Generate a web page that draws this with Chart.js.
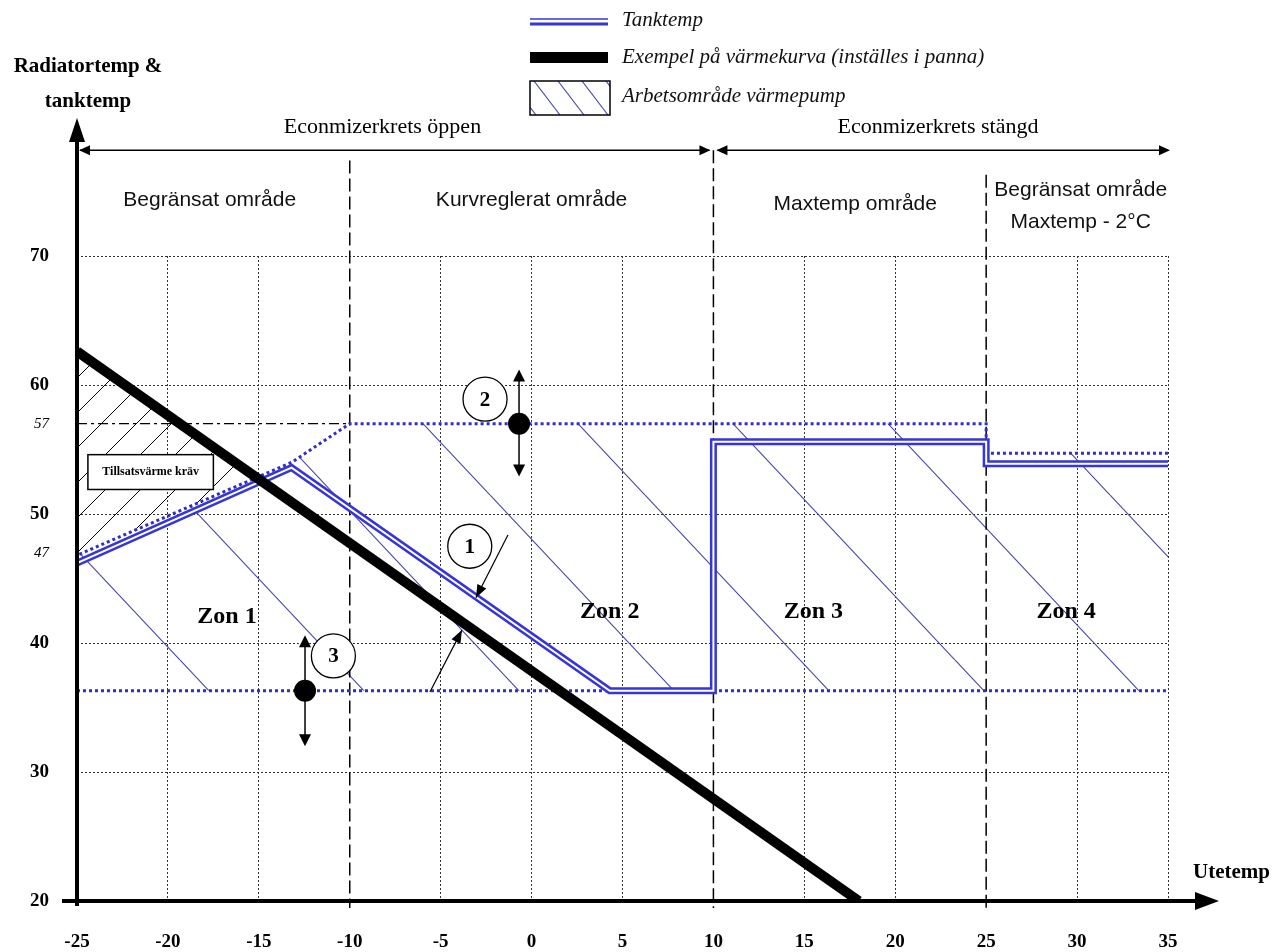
<!DOCTYPE html>
<html>
<head>
<meta charset="utf-8">
<script src="https://cdn.jsdelivr.net/npm/chart.js@4/dist/chart.umd.min.js"></script>
<style>
  html,body{margin:0;background:#fff}
  #wrap{width:1279px;height:952px}
</style>
</head>
<body>
<div id="wrap"><canvas id="c" width="1279" height="952"></canvas></div>
<script>
// ---------- data (utetemp on x, radiator/tank temp on y) ----------
const xTicks = [-25,-20,-15,-10,-5,0,5,10,15,20,25,30,35];
const yTicks = [20,30,40,47,50,57,60,70];
const smallTicks = [47,57];
const zoneBorders = [-10,10,25];
const zoneTops = [77.4,78.2,76.3];

// värmekurva (thick black)
const curveX = [-25,18];
const curveY = [62.6,20];

// tanktemp (double blue)
const tankX = [-25,-13.2,4.3,10,10,25,25,35];
const tankY = [46.2,53.6,36.3,36.3,55.6,55.6,53.9,53.9];

// working area of the heat pump, dotted borders
const upperX = [-25,-25,-13.2,-10,25,25,35];
const upperY = [36.3,46.8,54,57,57,54.7,54.7];
const lowerX = [-25,35];
const lowerY = [36.3,36.3];

// 57 reference (dash-dot)
const refX = [-25,-10];
const refY = [57,57];

// tillsatsvärme area (black hatch)
const extraX = [-25,-15.1,-25];
const extraY = [46.8,52.8,62.6];

// helpers
const pts = (xs, ys) => xs.map((v,i) => ({x:v, y:ys[i]}));
const SERIF = '"Liberation Serif", "Times New Roman", serif';
const SANS = '"Liberation Sans", Arial, sans-serif';

function makeHatch(w, h, color, lw, dir){
  const c = document.createElement('canvas');
  c.width = w; c.height = h;
  const g = c.getContext('2d');
  g.strokeStyle = color; g.lineWidth = lw;
  g.beginPath();
  for (const dx of [-w,0,w]){
    if (dir > 0){ g.moveTo(dx,0); g.lineTo(dx+w,h); }
    else { g.moveTo(dx,h); g.lineTo(dx+w,0); }
  }
  g.stroke();
  return c;
}

function arrowHead(ctx, x1, y1, x2, y2, len, half){
  const a = Math.atan2(y2-y1, x2-x1);
  ctx.beginPath();
  ctx.moveTo(x2, y2);
  ctx.lineTo(x2 - len*Math.cos(a) + half*Math.sin(a), y2 - len*Math.sin(a) - half*Math.cos(a));
  ctx.lineTo(x2 - len*Math.cos(a) - half*Math.sin(a), y2 - len*Math.sin(a) + half*Math.cos(a));
  ctx.closePath();
  ctx.fill();
}

function text(ctx, s, x, y, font, align){
  ctx.font = font;
  ctx.textAlign = align || 'center';
  ctx.textBaseline = 'middle';
  ctx.fillText(s, x, y);
}

// hatch areas + dashed zone borders under the lines
const underPlugin = {
  id: 'under',
  beforeDatasetsDraw(chart){
    const {ctx, scales:{x, y}} = chart;
    const poly = (xs, ys) => {
      ctx.beginPath();
      xs.forEach((v,i) => {
        const px = x.getPixelForValue(v), py = y.getPixelForValue(ys[i]);
        i ? ctx.lineTo(px,py) : ctx.moveTo(px,py);
      });
      ctx.closePath();
    };
    ctx.save();
    const blue = ctx.createPattern(makeHatch(155,165,'#4444a8',1.1,1), 'repeat');
    blue.setTransform(new DOMMatrix([1,0,0,1,25,0]));
    poly(upperX.concat(lowerX.slice().reverse()), upperY.concat(lowerY.slice().reverse()));
    ctx.fillStyle = blue; ctx.fill();

    const black = ctx.createPattern(makeHatch(35,35,'#000',1,-1), 'repeat');
    poly(extraX, extraY);
    ctx.fillStyle = black; ctx.fill();

    // zone borders
    ctx.strokeStyle = '#000'; ctx.lineWidth = 1.5; ctx.setLineDash([13,5]);
    zoneBorders.forEach((v,i) => {
      const px = x.getPixelForValue(v);
      ctx.beginPath();
      ctx.moveTo(px, y.getPixelForValue(zoneTops[i]));
      ctx.lineTo(px, y.getPixelForValue(20) + 7);
      ctx.stroke();
    });
    ctx.restore();
  }
};

// axes, legend and annotations on top
const overPlugin = {
  id: 'over',
  afterDraw(chart){
    const {ctx, scales:{x, y}} = chart;
    const X = v => x.getPixelForValue(v), Y = v => y.getPixelForValue(v);
    ctx.save();
    ctx.fillStyle = '#000'; ctx.strokeStyle = '#000';

    // axes with arrows
    ctx.lineWidth = 4;
    ctx.beginPath(); ctx.moveTo(X(-25), Y(20)+5); ctx.lineTo(X(-25), 135); ctx.stroke();
    arrowHead(ctx, X(-25), 300, X(-25), 118, 24, 8);
    ctx.beginPath(); ctx.moveTo(X(-25)-15, Y(20)); ctx.lineTo(1200, Y(20)); ctx.stroke();
    arrowHead(ctx, 1000, Y(20), 1219, Y(20), 24, 9);

    // axis titles
    text(ctx, 'Radiatortemp &', 88, 67, 'bold 21px ' + SERIF);
    text(ctx, 'tanktemp', 88, 102, 'bold 21px ' + SERIF);
    text(ctx, 'Utetemp', 1193, 873, 'bold 21px ' + SERIF, 'left');

    // econmizer arrows
    ctx.lineWidth = 1.5;
    const ay = Y(78.2);
    ctx.beginPath(); ctx.moveTo(X(-25)+3, ay); ctx.lineTo(X(10)-4, ay); ctx.stroke();
    arrowHead(ctx, X(0), ay, X(-25)+2, ay, 11, 5);
    arrowHead(ctx, X(0), ay, X(10)-3, ay, 11, 5);
    ctx.beginPath(); ctx.moveTo(X(10)+4, ay); ctx.lineTo(X(35), ay); ctx.stroke();
    arrowHead(ctx, X(20), ay, X(10)+3, ay, 11, 5);
    arrowHead(ctx, X(20), ay, X(35)+2, ay, 11, 5);
    text(ctx, 'Econmizerkrets öppen', X(-8.2), Y(80), '22px ' + SERIF);
    text(ctx, 'Econmizerkrets stängd', X(22.35), Y(80), '22px ' + SERIF);

    // region headings
    ctx.fillStyle = '#111';
    text(ctx, 'Begränsat område', X(-17.7), Y(74.3), '21px ' + SANS);
    text(ctx, 'Kurvreglerat område', X(0), Y(74.3), '21px ' + SANS);
    text(ctx, 'Maxtemp område', X(17.8), Y(74.0), '21px ' + SANS);
    text(ctx, 'Begränsat område', X(30.2), Y(75.1), '21px ' + SANS);
    text(ctx, 'Maxtemp - 2°C', X(30.2), Y(72.6), '21px ' + SANS);

    // zones
    ctx.fillStyle = '#000';
    text(ctx, 'Zon 1', X(-16.75), Y(42.0), 'bold 24px ' + SERIF);
    text(ctx, 'Zon 2', X(4.3), Y(42.4), 'bold 24px ' + SERIF);
    text(ctx, 'Zon 3', X(15.5), Y(42.4), 'bold 24px ' + SERIF);
    text(ctx, 'Zon 4', X(29.4), Y(42.4), 'bold 24px ' + SERIF);

    // tillsatsvärme box
    const bx1 = X(-24.4), bx2 = X(-17.5), by1 = Y(54.6), by2 = Y(51.9);
    ctx.fillStyle = '#fff'; ctx.fillRect(bx1, by1, bx2-bx1, by2-by1);
    ctx.lineWidth = 1.5; ctx.strokeRect(bx1, by1, bx2-bx1, by2-by1);
    ctx.fillStyle = '#000';
    text(ctx, 'Tillsatsvärme kräv', (bx1+bx2)/2, (by1+by2)/2, 'bold 12px ' + SERIF);

    // numbered markers
    const circle = (cx, cy, n) => {
      ctx.beginPath(); ctx.arc(cx, cy, 22, 0, Math.PI*2);
      ctx.fillStyle = '#fff'; ctx.fill();
      ctx.lineWidth = 1.3; ctx.strokeStyle = '#000'; ctx.stroke();
      ctx.fillStyle = '#000';
      text(ctx, n, cx, cy+1, 'bold 21px ' + SERIF);
    };
    const updown = (vx, yTop, yDot, yBot) => {
      ctx.lineWidth = 1.5;
      ctx.beginPath(); ctx.moveTo(X(vx), Y(yTop)+8); ctx.lineTo(X(vx), Y(yBot)-8); ctx.stroke();
      arrowHead(ctx, X(vx), Y(yDot), X(vx), Y(yTop), 12, 6);
      arrowHead(ctx, X(vx), Y(yDot), X(vx), Y(yBot), 12, 6);
      ctx.beginPath(); ctx.arc(X(vx), Y(yDot), 11, 0, Math.PI*2); ctx.fill();
    };
    updown(-0.69, 61.2, 57, 52.9);
    circle(X(-2.56), Y(58.9), '2');
    updown(-12.46, 40.6, 36.3, 32.0);
    circle(X(-10.9), Y(39.0), '3');
    circle(X(-3.4), Y(47.5), '1');
    const pointer = (x1, y1, x2, y2) => {
      ctx.lineWidth = 1.2;
      ctx.beginPath(); ctx.moveTo(X(x1), Y(y1)); ctx.lineTo(X(x2), Y(y2)); ctx.stroke();
      arrowHead(ctx, X(x1), Y(y1), X(x2), Y(y2), 13, 5);
    };
    pointer(-1.3, 48.37, -3.06, 43.5);
    pointer(-5.59, 36.2, -3.83, 41.0);

    // legend
    ctx.lineWidth = 1.5; ctx.strokeStyle = '#3535d8';
    ctx.beginPath(); ctx.moveTo(530, 19); ctx.lineTo(608, 19); ctx.stroke();
    ctx.lineWidth = 3;
    ctx.beginPath(); ctx.moveTo(530, 24); ctx.lineTo(608, 24); ctx.stroke();
    ctx.fillStyle = '#000'; ctx.fillRect(530, 52, 78, 11);
    ctx.save();
    ctx.beginPath(); ctx.rect(530, 81, 80, 34); ctx.clip();
    ctx.strokeStyle = '#4444a8'; ctx.lineWidth = 1.1;
    for (let k = -1; k < 4; k++){
      ctx.beginPath(); ctx.moveTo(534 + k*24, 81); ctx.lineTo(534 + k*24 + 26, 115); ctx.stroke();
    }
    ctx.restore();
    ctx.strokeStyle = '#000'; ctx.lineWidth = 1.5; ctx.strokeRect(530, 81, 80, 34);
    ctx.fillStyle = '#111';
    text(ctx, 'Tanktemp', 622, 20, 'italic 21px ' + SERIF, 'left');
    text(ctx, 'Exempel på värmekurva (inställes i panna)', 622, 57, 'italic 21px ' + SERIF, 'left');
    text(ctx, 'Arbetsområde värmepump', 622, 96, 'italic 21px ' + SERIF, 'left');
    ctx.restore();
  }
};

const ctx = document.getElementById('c').getContext('2d');
const chart = new Chart(ctx, {
  type: 'scatter',
  data: {
    datasets: [
      { label: 'Exempel på värmekurva', data: pts(curveX, curveY), showLine: true, borderColor: '#000', borderWidth: 10, pointRadius: 0, order: 0 },
      { label: 'gap', data: pts(tankX, tankY), showLine: true, borderColor: '#fff', borderWidth: 2, pointRadius: 0, order: 1 },
      { label: 'Tanktemp', data: pts(tankX, tankY), showLine: true, borderColor: '#3535d8', borderWidth: 7, pointRadius: 0, order: 2 },
      { label: 'upper', data: pts(upperX, upperY), showLine: true, borderColor: '#3030c0', borderWidth: 3, borderDash: [3,3], pointRadius: 0, order: 3 },
      { label: 'lower', data: pts(lowerX, lowerY), showLine: true, borderColor: '#3030c0', borderWidth: 3, borderDash: [3,3], pointRadius: 0, order: 3 },
      { label: '57', data: pts(refX, refY), showLine: true, borderColor: '#000', borderWidth: 1.2, borderDash: [10,4,3,4], pointRadius: 0, order: 4 }
    ]
  },
  options: {
    responsive: false,
    animation: false,
    devicePixelRatio: 1,
    layout: { padding: { top: 256, right: 111, left: 0, bottom: 0 } },
    plugins: { legend: { display: false }, tooltip: { enabled: false } },
    scales: {
      x: {
        type: 'linear', min: -25, max: 35,
        afterBuildTicks: s => { s.ticks = xTicks.map(v => ({ value: v })); },
        afterFit: s => { s.height = 51; },
        grid: { color: c => (c.tick && (zoneBorders.includes(c.tick.value) || c.tick.value === -25)) ? 'rgba(0,0,0,0)' : '#333', lineWidth: 1, drawTicks: false },
        border: { display: false, dash: [2,2] },
        ticks: { color: '#000', padding: 30, maxRotation: 0, autoSkip: false, font: { family: SERIF, size: 19, weight: 'bold' } }
      },
      y: {
        type: 'linear', min: 20, max: 70,
        afterBuildTicks: s => { s.ticks = yTicks.map(v => ({ value: v })); },
        afterFit: s => { s.width = 77; },
        grid: { color: c => (c.tick && (smallTicks.includes(c.tick.value) || c.tick.value === 20)) ? 'rgba(0,0,0,0)' : '#333', lineWidth: 1, drawTicks: false },
        border: { display: false, dash: [2,2] },
        ticks: {
          color: '#000', padding: 28,
          font: c => (c.tick && smallTicks.includes(c.tick.value)) ? { family: SERIF, size: 15, style: 'italic' } : { family: SERIF, size: 19, weight: 'bold' }
        }
      }
    }
  },
  plugins: [underPlugin, overPlugin]
});
</script>
</body>
</html>
